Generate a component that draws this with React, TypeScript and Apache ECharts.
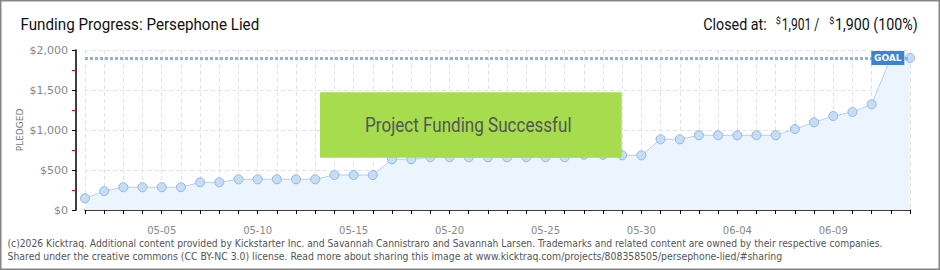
import React, { useEffect, useRef } from "react";
import * as echarts from "echarts";

const dates = [
  "05-01", "05-02", "05-03", "05-04", "05-05", "05-06", "05-07", "05-08", "05-09", "05-10",
  "05-11", "05-12", "05-13", "05-14", "05-15", "05-16", "05-17", "05-18", "05-19", "05-20",
  "05-21", "05-22", "05-23", "05-24", "05-25", "05-26", "05-27", "05-28", "05-29", "05-30",
  "05-31", "06-01", "06-02", "06-03", "06-04", "06-05", "06-06", "06-07", "06-08", "06-09",
  "06-10", "06-11", "06-12", "06-13",
];
const pledged = [
  146, 236, 285, 285, 285, 285, 346, 346, 384, 384,
  384, 384, 384, 437, 437, 437, 634, 634, 659, 659,
  659, 659, 659, 659, 659, 659, 690, 690, 684, 684,
  884, 884, 934, 934, 934, 934, 934, 1012, 1096, 1175,
  1225, 1321, 1901, 1901,
];
const goal = 1900;
const goalLabelDate = "06-12";
const titleText = "Funding Progress: Persephone Lied";
const closedLabel = "Closed at:";
const closedPledged = "1,901 /";
const closedGoal = "1,900 (100%)";
const successText = "Project Funding Successful";
const footer1 =
  "(c)2026 Kicktraq. Additional content provided by Kickstarter Inc. and Savannah Cannistraro and Savannah Larsen. Trademarks and related content are owned by their respective companies.";
const footer2 =
  "Shared under the creative commons (CC BY-NC 3.0) license. Read more about sharing this image at www.kicktraq.com/projects/808358505/persephone-lied/#sharing";

let measureCtx: CanvasRenderingContext2D | null = null;
function fit(text: string, font: string, target: number): number {
  if (!measureCtx) measureCtx = document.createElement("canvas").getContext("2d");
  if (!measureCtx) return 1;
  measureCtx.font = font;
  const w = measureCtx.measureText(text).width;
  return w > 0 ? target / w : 1;
}

export default function App() {
  const ref = useRef<HTMLDivElement>(null);
  useEffect(() => {
    if (!ref.current) return;
    const chart = echarts.init(ref.current, null, { renderer: "svg" });
    const titleFont = "16px Roboto";
    const footFont = "10px 'DejaVu Sans'";
    const succFont = "20px Roboto";
    const textPiece = (text: string, x: number, y: number, width: number, size: number, color = "#111") => ({
      type: "text",
      x,
      y,
      scaleX: fit(text, `${size}px Roboto`, width),
      style: { text, fontFamily: "Roboto", fontSize: size, fill: color, align: "left", verticalAlign: "middle" },
    });
    chart.setOption({
      animation: false,
      backgroundColor: "#ffffff",
      grid: { left: 85, right: 30, top: 50, bottom: 60 },
      xAxis: {
        type: "category",
        data: dates,
        boundaryGap: false,
        offset: 10,
        axisLine: { show: true, lineStyle: { color: "#000", width: 1.5 } },
        axisTick: { show: true, interval: 0, length: 4, lineStyle: { color: "#000" } },
        axisLabel: {
          interval: (i: number) => i % 5 === 4,
          color: "#888",
          fontFamily: "DejaVu Sans",
          fontSize: 10,
          margin: 5,
        },
        splitLine: { show: true, interval: 0, lineStyle: { color: "#e2e2e2", type: [4, 3] } },
      },
      yAxis: {
        type: "value",
        min: 0,
        max: 2000,
        interval: 500,
        offset: 9,
        axisLine: { show: true, lineStyle: { color: "#000", width: 1.5 } },
        axisTick: { show: true, length: 4, lineStyle: { color: "#000" } },
        minorTick: { show: true, splitNumber: 2, length: 4, lineStyle: { color: "#e00000" } },
        axisLabel: {
          color: "#888",
          fontFamily: "DejaVu Sans",
          fontSize: 11,
          margin: 8,
          formatter: (v: number) => "$" + v.toLocaleString("en-US"),
        },
        splitLine: { show: true, lineStyle: { color: "#e2e2e2", type: [4, 3] } },
      },
      series: [
        {
          type: "line",
          data: pledged,
          symbol: "circle",
          symbolSize: 9,
          lineStyle: { color: "#b3d1f0", width: 1 },
          itemStyle: { color: "#c5ddf7", borderColor: "#98b7db", borderWidth: 1 },
          areaStyle: { color: "#ecf4fd", opacity: 1 },
          markLine: {
            silent: true,
            symbol: ["none", "none"],
            label: { show: false },
            lineStyle: { color: "#8cb3e0", width: 3, type: [3, 2] },
            data: [{ yAxis: goal }],
          },
          markPoint: {
            silent: true,
            symbol: "rect",
            symbolSize: [33, 14],
            symbolOffset: [-3, 0],
            itemStyle: { color: "#3b83d6" },
            label: {
              show: true,
              formatter: "GOAL",
              color: "#fff",
              fontSize: 9,
              fontWeight: "bold",
              fontFamily: "DejaVu Sans",
            },
            data: [{ coord: [goalLabelDate, goal] }],
          },
        },
      ],
      graphic: [
        {
          type: "rect",
          shape: { x: 0.75, y: 0.75, width: 938.5, height: 268.5 },
          style: { fill: "none", stroke: "#858585", lineWidth: 1.5 },
          silent: true,
        },
        {
          type: "text",
          x: 20.5,
          y: 24.5,
          scaleX: fit(titleText, titleFont, 239),
          style: { text: titleText, fontFamily: "Roboto", fontSize: 16, fill: "#111", align: "left", verticalAlign: "middle" },
        },
        textPiece(closedLabel, 703.3, 24.5, 63.4, 16),
        {
          type: "text",
          x: 775.7,
          y: 20.8,
          style: { text: "$", fontFamily: "Roboto", fontSize: 9, fill: "#111", align: "left", verticalAlign: "middle" },
        },
        textPiece(closedPledged, 781.7, 24.5, 37.6, 16),
        {
          type: "text",
          x: 829.3,
          y: 20.8,
          style: { text: "$", fontFamily: "Roboto", fontSize: 9, fill: "#111", align: "left", verticalAlign: "middle" },
        },
        textPiece(closedGoal, 835, 24.5, 82.7, 16),
        {
          type: "text",
          x: 20,
          y: 130,
          rotation: Math.PI / 2,
          style: {
            text: "PLEDGED",
            fontFamily: "DejaVu Sans",
            fontSize: 9,
            fill: "#777",
            align: "center",
            verticalAlign: "middle",
          },
        },
        {
          type: "rect",
          shape: { x: 320, y: 92.3, width: 301.7, height: 65.4 },
          style: { fill: "#a6dc4e" },
          z: 100,
        },
        {
          type: "text",
          x: 468.3,
          y: 125.6,
          z: 101,
          scaleX: fit(successText, succFont, 206.7),
          style: {
            text: successText,
            fontFamily: "Roboto",
            fontSize: 20,
            fill: "#555",
            align: "center",
            verticalAlign: "middle",
            textShadowColor: "#ffffff",
            textShadowOffsetX: 1,
            textShadowOffsetY: 1,
            textShadowBlur: 0,
          },
        },
        {
          type: "text",
          x: 7.5,
          y: 243,
          scaleX: fit(footer1, footFont, 876),
          style: { text: footer1, fontFamily: "DejaVu Sans", fontSize: 10, fill: "#555", align: "left", verticalAlign: "middle" },
        },
        {
          type: "text",
          x: 7.5,
          y: 256,
          scaleX: fit(footer2, footFont, 776),
          style: { text: footer2, fontFamily: "DejaVu Sans", fontSize: 10, fill: "#555", align: "left", verticalAlign: "middle" },
        },
      ],
    });
    return () => chart.dispose();
  }, []);
  return (
    <div
      ref={ref}
      style={{ position: "absolute", left: 0, top: 0, width: 940, height: 270, background: "#fff" }}
    />
  );
}
